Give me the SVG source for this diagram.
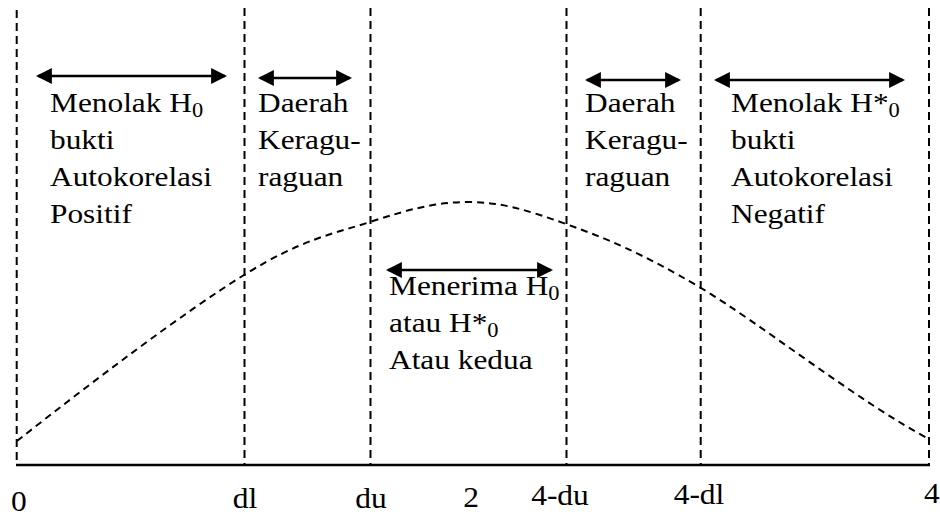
<svg xmlns="http://www.w3.org/2000/svg" width="940" height="519" viewBox="0 0 940 519">
<style>
text{font-family:'Liberation Serif','Times New Roman',Times,serif;font-size:28px;fill:#000}
.sub{font-size:20px}
.lb{font-size:30px}
.vl{stroke:#000;stroke-width:2;stroke-dasharray:8 5;fill:none}
.cv{stroke:#000;stroke-width:2;stroke-dasharray:7 5;fill:none}
.ax{stroke:#000;stroke-width:2.5;fill:none}
.ar{stroke:#000;stroke-width:2.5;fill:none;marker-start:url(#ah);marker-end:url(#ah)}
</style>
<defs>
<marker id="ah" markerUnits="userSpaceOnUse" markerWidth="16" markerHeight="16" viewBox="0 0 15 15" refX="13" refY="7.5" orient="auto-start-reverse">
<path d="M0,0 L15,7.5 L0,15 z" fill="#000"/>
</marker>
</defs>
<rect width="940" height="519" fill="#fff"/>
<g id="frame">
<line class="vl" x1="16.7" y1="10" x2="16.7" y2="464"/>
<line class="vl" x1="244.5" y1="8" x2="244.5" y2="464"/>
<line class="vl" x1="370.5" y1="8" x2="370.5" y2="464"/>
<line class="vl" x1="566.5" y1="8" x2="566.5" y2="464"/>
<line class="vl" x1="700.7" y1="8" x2="700.7" y2="464"/>
<line class="vl" x1="929" y1="8" x2="929" y2="464"/>
<line class="ax" x1="16" y1="465" x2="930" y2="465"/>
<path class="cv" d="M17,441 C92,382 185,311.5 244,275 C303,238.5 333,234 370,222 C407,210 435,202 468,202 C501,202 527,210 566,224 C605,238 640,252 701,288 C761,324 859,402 929,439"/>
</g>
<g id="connectors">
<line class="ar" x1="38" y1="76" x2="225" y2="76"/>
<line class="ar" x1="260" y1="78" x2="350" y2="78"/>
<line class="ar" x1="388" y1="270" x2="551" y2="270"/>
<line class="ar" x1="587" y1="80" x2="679" y2="80"/>
<line class="ar" x1="716" y1="80" x2="903" y2="80"/>
</g>
<g id="region-reject-positive">
<text transform="translate(50 112) scale(1.12 1)"><tspan x="0" y="0">Menolak H<tspan class="sub" dy="5">0</tspan></tspan><tspan x="0" y="37">bukti</tspan><tspan x="0" y="74">Autokorelasi</tspan><tspan x="0" y="111">Positif</tspan></text>
</g>
<g id="region-doubt-left">
<text transform="translate(258 112) scale(1.12 1)"><tspan x="0" y="0">Daerah</tspan><tspan x="0" y="37">Keragu-</tspan><tspan x="0" y="74">raguan</tspan></text>
</g>
<g id="region-accept">
<text transform="translate(389 295) scale(1.12 1)"><tspan x="0" y="0">Menerima H<tspan class="sub" dy="5">0</tspan></tspan><tspan x="0" y="37">atau H*<tspan class="sub" dy="5">0</tspan></tspan><tspan x="0" y="74">Atau kedua</tspan></text>
</g>
<g id="region-doubt-right">
<text transform="translate(585 112) scale(1.12 1)"><tspan x="0" y="0">Daerah</tspan><tspan x="0" y="37">Keragu-</tspan><tspan x="0" y="74">raguan</tspan></text>
</g>
<g id="region-reject-negative">
<text transform="translate(731 112) scale(1.12 1)"><tspan x="0" y="0">Menolak H*<tspan class="sub" dy="5">0</tspan></tspan><tspan x="0" y="37">bukti</tspan><tspan x="0" y="74">Autokorelasi</tspan><tspan x="0" y="111">Negatif</tspan></text>
</g>
<g id="axis-labels">
<text class="lb" transform="translate(11 511) scale(1.05 1)">0</text>
<text class="lb" transform="translate(245 508) scale(1.05 1)" text-anchor="middle">dl</text>
<text class="lb" transform="translate(371 508) scale(1.05 1)" text-anchor="middle">du</text>
<text class="lb" transform="translate(471 507) scale(1.05 1)" text-anchor="middle">2</text>
<text class="lb" transform="translate(560 505) scale(1.05 1)" text-anchor="middle">4-du</text>
<text class="lb" transform="translate(699 504) scale(1.05 1)" text-anchor="middle">4-dl</text>
<text class="lb" transform="translate(924 503) scale(1.05 1)">4</text>
</g>
</svg>
